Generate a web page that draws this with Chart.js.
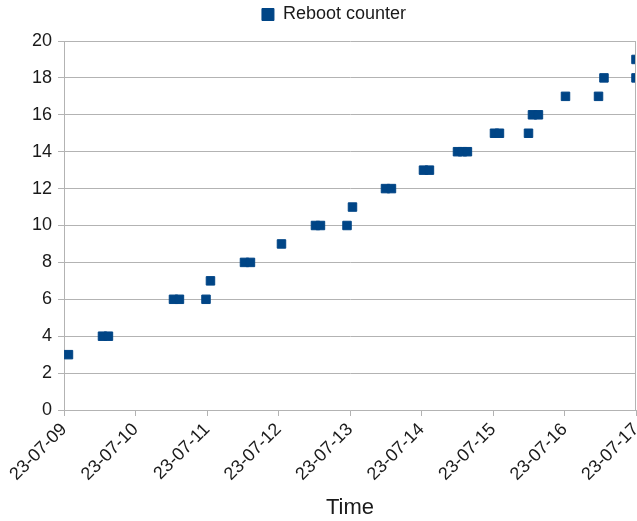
<!DOCTYPE html>
<html>
<head>
<meta charset="utf-8">
<script src="https://cdn.jsdelivr.net/npm/chart.js@4.4.0/dist/chart.umd.min.js"></script>
<style>
  body { margin: 0; background: #fff; }
  #wrap { width: 637px; height: 521px; position: relative; }
</style>
</head>
<body>
<div id="wrap"><canvas id="rebootChart"></canvas></div>
<script>
// Relevés du compteur de redémarrages (mois-jour heure:minute, 2023)
const times = [
    '07-09 01:30', '07-09 12:55', '07-09 14:55',
    '07-10 12:45', '07-10 14:45', '07-10 23:40',
    '07-11 01:10', '07-11 12:35', '07-11 14:35',
    '07-12 01:00', '07-12 12:25', '07-12 14:05', '07-12 23:00',
    '07-13 00:50', '07-13 11:55', '07-13 13:55',
    '07-14 00:40', '07-14 02:40', '07-14 12:05', '07-14 13:45', '07-14 15:25',
    '07-15 00:30', '07-15 02:10', '07-15 11:55', '07-15 13:15', '07-15 15:15',
    '07-16 00:20', '07-16 11:25', '07-16 13:15',
    '07-17 00:00', '07-17 00:00'
];
const counts = [
    3, 4, 4,
    6, 6, 6,
    7, 8, 8,
    9, 10, 10, 10,
    11, 12, 12,
    13, 13, 14, 14, 14,
    15, 15, 15, 16, 16,
    17, 17, 18,
    18, 19
];
const startDay = 9;           // 23-07-09 = origine de l'axe
const dayCount = 8;
const seriesLabel = 'Reboot counter';
const xTitle = 'Time';

const blue = '#004586';
const gridGrey = '#b3b3b3';
const textColor = '#1a1a1a';

// Convertit 'MM-DD hh:mm' en jours depuis l'origine
function toDays(t) {
    const [date, clock] = t.split(' ');
    const day = Number(date.split('-')[1]);
    const [h, m] = clock.split(':').map(Number);
    return (day - startDay) + h / 24 + m / 1440;
}

const points = times.map((t, i) => ({ x: toDays(t), y: counts[i] }));

// Cadre droit de la zone de tracé
const plotFrame = {
    id: 'plotFrame',
    afterDatasetsDraw(chart) {
        const { ctx, chartArea } = chart;
        ctx.save();
        ctx.strokeStyle = gridGrey;
        ctx.lineWidth = 1;
        ctx.beginPath();
        ctx.moveTo(chartArea.right - 0.5, chartArea.top);
        ctx.lineTo(chartArea.right - 0.5, chartArea.bottom);
        ctx.stroke();
        ctx.restore();
    }
};

new Chart(document.getElementById('rebootChart').getContext('2d'), {
    type: 'scatter',
    data: {
        datasets: [{
            label: seriesLabel,
            data: points,
            pointStyle: 'rect',
            pointRadius: 6,
            pointHoverRadius: 6,
            backgroundColor: blue,
            borderColor: blue,
            borderWidth: 1
        }]
    },
    options: {
        responsive: true,
        maintainAspectRatio: false,
        animation: false,
        layout: {
            autoPadding: false,
            padding: { top: 0, right: 1, left: 32, bottom: 0 }
        },
        scales: {
            x: {
                type: 'linear',
                min: 0,
                max: dayCount,
                afterFit: (scale) => {
                    scale.height = 111;
                    scale.paddingRight = 0;
                },
                border: { display: true, color: gridGrey },
                grid: { drawOnChartArea: false, drawTicks: true, tickLength: 6, color: gridGrey },
                ticks: {
                    stepSize: 1,
                    maxRotation: 45,
                    minRotation: 45,
                    color: textColor,
                    font: { family: 'Liberation Sans', size: 18 },
                    callback: (value) => '23-07-' + String(startDay + value).padStart(2, '0')
                },
                title: {
                    display: true,
                    text: xTitle,
                    color: textColor,
                    padding: { top: 0, bottom: 0 },
                    font: { family: 'Liberation Sans', size: 22 }
                }
            },
            y: {
                min: 0,
                max: 20,
                afterFit: (scale) => { scale.width = 32; },
                border: { display: true, color: gridGrey },
                grid: { color: gridGrey, tickLength: 6 },
                ticks: {
                    stepSize: 2,
                    padding: 6,
                    color: textColor,
                    font: { family: 'Liberation Sans', size: 18 }
                }
            }
        },
        plugins: {
            legend: {
                position: 'top',
                weight: 1000,
                labels: {
                    boxWidth: 12,
                    boxHeight: 12,
                    padding: 5.5,
                    color: textColor,
                    font: { family: 'Liberation Sans', size: 18 }
                }
            },
            // titre vide : simple espace entre la légende et le graphique
            title: {
                display: true,
                text: '',
                position: 'top',
                weight: 500,
                padding: 0,
                font: { size: 5, lineHeight: 1.5 }
            },
            tooltip: { enabled: false }
        }
    },
    plugins: [plotFrame]
});
</script>
</body>
</html>
